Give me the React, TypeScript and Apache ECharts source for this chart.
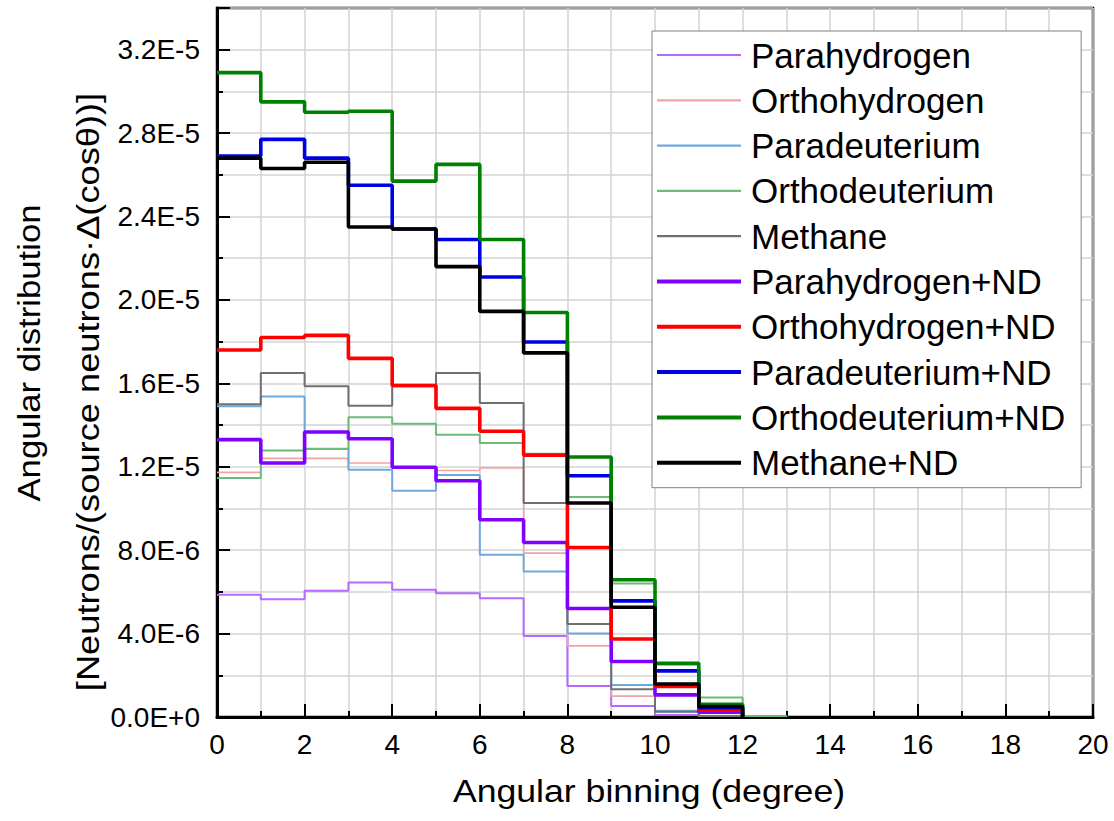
import React, { useEffect, useRef } from "react";
import * as echarts from "echarts";

// Bin index k covers the angular interval [k, k+1) degrees.
const seriesNames = [
  "Parahydrogen",
  "Orthohydrogen",
  "Paradeuterium",
  "Orthodeuterium",
  "Methane",
  "Parahydrogen+ND",
  "Orthohydrogen+ND",
  "Paradeuterium+ND",
  "Orthodeuterium+ND",
  "Methane+ND",
];

const parahydrogen = [5.86e-6, 5.65e-6, 6.06e-6, 6.45e-6, 6.1e-6, 5.94e-6, 5.7e-6, 3.89e-6, 1.49e-6, 0.53e-6, 0.1e-6];
const orthohydrogen = [11.73e-6, 12.4e-6, 12.4e-6, 12.18e-6, 11.95e-6, 11.82e-6, 11.94e-6, 7.86e-6, 3.41e-6, 1.0e-6, 0.25e-6, 0.05e-6];
const paradeuterium = [14.9e-6, 15.37e-6, 12.86e-6, 11.86e-6, 10.85e-6, 11.6e-6, 7.78e-6, 6.98e-6, 4.0e-6, 1.54e-6, 0.3e-6, 0.05e-6];
const orthodeuterium = [11.46e-6, 12.78e-6, 12.85e-6, 14.38e-6, 14.06e-6, 13.54e-6, 13.14e-6, 12.62e-6, 10.55e-6, 6.4e-6, 2.5e-6, 0.93e-6, 0.05e-6];
const methane = [15.0e-6, 16.5e-6, 15.86e-6, 14.93e-6, 15.86e-6, 16.5e-6, 15.06e-6, 10.26e-6, 4.46e-6, 1.33e-6, 0.25e-6, 0.05e-6];
const parahydrogenND = [13.3e-6, 12.18e-6, 13.67e-6, 13.34e-6, 11.98e-6, 11.33e-6, 9.46e-6, 8.37e-6, 5.2e-6, 2.66e-6, 1.06e-6, 0.23e-6];
const orthohydrogenND = [17.6e-6, 18.2e-6, 18.3e-6, 17.2e-6, 15.9e-6, 14.8e-6, 13.7e-6, 12.56e-6, 8.13e-6, 3.74e-6, 1.46e-6, 0.34e-6];
const paradeuteriumND = [26.9e-6, 27.7e-6, 26.8e-6, 25.5e-6, 23.4e-6, 22.9e-6, 21.1e-6, 17.98e-6, 11.57e-6, 5.57e-6, 2.21e-6, 0.45e-6];
const orthodeuteriumND = [30.9e-6, 29.5e-6, 29.0e-6, 29.05e-6, 25.7e-6, 26.5e-6, 22.9e-6, 19.4e-6, 12.47e-6, 6.58e-6, 2.58e-6, 0.61e-6];
const methaneND = [26.8e-6, 26.3e-6, 26.6e-6, 23.5e-6, 23.4e-6, 21.6e-6, 19.45e-6, 17.46e-6, 10.26e-6, 5.26e-6, 1.58e-6, 0.5e-6];

const seriesValues = [
  parahydrogen,
  orthohydrogen,
  paradeuterium,
  orthodeuterium,
  methane,
  parahydrogenND,
  orthohydrogenND,
  paradeuteriumND,
  orthodeuteriumND,
  methaneND,
];

const seriesColors = [
  "#b469ff",
  "#f4a3a3",
  "#6fa8dc",
  "#6dbb78",
  "#707070",
  "#8000ff",
  "#ff0000",
  "#0000e6",
  "#008000",
  "#000000",
];
const seriesWidths = [2, 1.6, 2, 2, 2, 3.6, 3.6, 3.6, 3.6, 3.6];

const FONT = "'Liberation Sans', Arial, Helvetica, sans-serif";

// Turn per-bin values into step points: each bin starts at its left edge,
// the last bin is closed at its right edge and dropped back to zero.
function histogramPoints(bins: number[]): [number, number][] {
  const pts: [number, number][] = bins.map((v, k) => [k, v] as [number, number]);
  const n = bins.length;
  pts.push([n, bins[n - 1]]);
  pts.push([n, 0]);
  return pts;
}

function sciLabel(v: number): string {
  if (Math.round(v / 2e-6) % 2 !== 0) return "";
  return v.toExponential(1).replace("e", "E");
}

export default function App() {
  const ref = useRef<HTMLDivElement>(null);

  useEffect(() => {
    document.body.style.margin = "0";
    if (!ref.current) return;
    const chart = echarts.init(ref.current, null, { renderer: "svg" });

    const series = seriesNames.map((name, i) => ({
      name,
      type: "line",
      step: "end",
      symbol: "none",
      xAxisIndex: 0,
      yAxisIndex: 0,
      z: i < 5 ? 2 : 3,
      lineStyle: { color: seriesColors[i], width: seriesWidths[i] },
      itemStyle: { color: seriesColors[i] },
      data: histogramPoints(seriesValues[i]),
    }));

    const legendData = seriesNames.map((name, i) => ({
      name,
      lineStyle: { color: seriesColors[i], width: i < 5 ? 2.2 : 4 },
    }));

    chart.setOption({
      animation: false,
      backgroundColor: "#ffffff",
      grid: {
        left: 217,
        top: 8,
        right: 21,
        bottom: 104,
        show: true,
        borderColor: "#000",
        borderWidth: 2.5,
        backgroundColor: "transparent",
      },
      xAxis: [
        {
          type: "value",
          position: "bottom",
          min: 0,
          max: 20,
          interval: 1,
          axisLine: { show: true, lineStyle: { color: "#000", width: 3 } },
          axisTick: { show: true, inside: true, length: 6, lineStyle: { color: "#000", width: 2 } },
          splitLine: { show: true, lineStyle: { color: "#d3d3d3", width: 1.5 } },
          axisLabel: {
            formatter: (v: number) => (Math.round(v) % 2 === 0 ? String(Math.round(v)) : ""),
            fontSize: 28,
            color: "#000",
            fontFamily: FONT,
            margin: 13,
          },
        },
        {
          type: "value",
          position: "bottom",
          min: 0,
          max: 20,
          interval: 2,
          axisLine: { show: false },
          axisTick: { show: true, inside: true, length: 13, lineStyle: { color: "#000", width: 2 } },
          splitLine: { show: false },
          axisLabel: { show: false },
        },
      ],
      yAxis: [
        {
          type: "value",
          position: "left",
          min: 0,
          max: 3.4e-5,
          interval: 2e-6,
          axisLine: { show: true, lineStyle: { color: "#000", width: 3 } },
          axisTick: { show: true, inside: true, length: 6, lineStyle: { color: "#000", width: 2 } },
          splitLine: { show: true, lineStyle: { color: "#d3d3d3", width: 1.5 } },
          axisLabel: {
            formatter: sciLabel,
            fontSize: 28,
            color: "#000",
            fontFamily: FONT,
            margin: 17,
          },
        },
        {
          type: "value",
          position: "left",
          min: 0,
          max: 3.4e-5,
          interval: 4e-6,
          axisLine: { show: false },
          axisTick: { show: true, inside: true, length: 13, lineStyle: { color: "#000", width: 2 } },
          splitLine: { show: false },
          axisLabel: { show: false },
        },
      ],
      legend: {
        data: legendData,
        orient: "vertical",
        left: 652,
        top: 31,
        padding: [6, 16, 7, 3],
        itemWidth: 84,
        itemHeight: 14,
        itemGap: 9.3,
        itemStyle: { opacity: 0 },
        textStyle: { fontSize: 35, lineHeight: 36, color: "#000", fontFamily: FONT, padding: [0, 0, 0, 5] },
        backgroundColor: "#ffffff",
        borderColor: "#808080",
        borderWidth: 1,
        borderRadius: 0,
      },
      graphic: [
        {
          type: "text",
          x: 29,
          y: 353,
          rotation: Math.PI / 2,
          scaleX: 1.12,
          style: {
            text: "Angular distribution",
            fontSize: 31,
            fontFamily: FONT,
            fill: "#000",
            align: "center",
            verticalAlign: "middle",
          },
        },
        {
          type: "text",
          x: 88,
          y: 392,
          rotation: Math.PI / 2,
          scaleX: 1.17,
          style: {
            text: "[Neutrons/(source neutrons\u00B7\u0394(cos\u03B8))]",
            fontSize: 31,
            fontFamily: FONT,
            fill: "#000",
            align: "center",
            verticalAlign: "middle",
          },
        },
        {
          type: "text",
          x: 649,
          y: 791,
          scaleX: 1.15,
          style: {
            text: "Angular binning (degree)",
            fontSize: 31,
            fontFamily: FONT,
            fill: "#000",
            align: "center",
            verticalAlign: "middle",
          },
        },
      ],
      series,
    });

    return () => chart.dispose();
  }, []);

  return <div ref={ref} style={{ width: 1114, height: 821 }} />;
}
